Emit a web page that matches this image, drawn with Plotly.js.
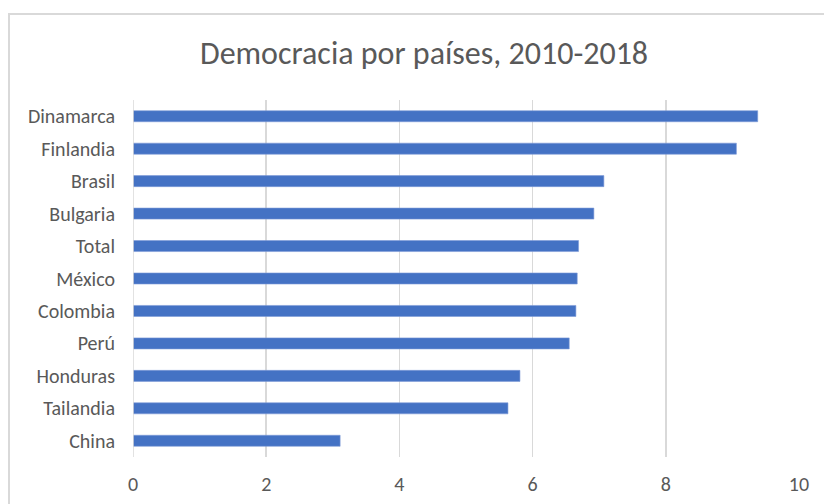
<!DOCTYPE html>
<html>
<head>
<meta charset="utf-8">
<script src="https://cdn.plot.ly/plotly-3.0.1.min.js"></script>
<style>
  html, body { margin: 0; padding: 0; background: #ffffff; }
  #wrap { position: relative; width: 824px; height: 504px; overflow: hidden; }
  #frame { position: absolute; left: 8px; top: 13px; width: 840px; height: 520px; border: 2px solid #d9d9d9; box-sizing: border-box; pointer-events: none; }
  #chart { position: absolute; left: 0; top: 0; width: 824px; height: 504px; }
</style>
</head>
<body>
<div id="wrap">
  <div id="chart"></div>
  <div id="frame"></div>
</div>
<script>
const countries = ["Dinamarca", "Finlandia", "Brasil", "Bulgaria", "Total", "México", "Colombia", "Perú", "Honduras", "Tailandia", "China"];
const democracyScores = [9.38, 9.06, 7.07, 6.92, 6.69, 6.67, 6.65, 6.55, 5.81, 5.63, 3.11];
const xTickValues = [0, 2, 4, 6, 8, 10];
const chartTitle = "Democracia por países, 2010-2018";

const fontFamily = "Carlito, Calibri, 'Liberation Sans', Arial, sans-serif";

const trace = {
  type: "bar",
  orientation: "h",
  x: democracyScores,
  y: countries,
  marker: { color: "#4472C4", line: { color: "#7d9bd6", width: 0.6 } },
  hoverinfo: "x+y"
};

const layout = {
  width: 824,
  height: 504,
  paper_bgcolor: "rgba(0,0,0,0)",
  plot_bgcolor: "rgba(0,0,0,0)",
  margin: { l: 133, r: 25, t: 100, b: 47, pad: 0 },
  bargap: 0.66,
  showlegend: false,
  title: {
    text: chartTitle,
    font: { family: fontFamily, size: 32, color: "#595959" },
    x: 424 / 824,
    xref: "container",
    xanchor: "center",
    y: 1 - 53 / 504,
    yref: "container",
    yanchor: "middle"
  },
  xaxis: {
    range: [0, 10],
    tickvals: xTickValues,
    ticktext: xTickValues.map(String),
    showgrid: true,
    gridcolor: "#d9d9d9",
    gridwidth: 1.5,
    zeroline: false,
    showline: false,
    ticks: "",
    ticklabelstandoff: 13,
    tickfont: { family: fontFamily, size: 20, color: "#595959" },
    fixedrange: true
  },
  yaxis: {
    type: "category",
    autorange: "reversed",
    showgrid: false,
    zeroline: false,
    showline: false,
    ticks: "",
    ticklabelstandoff: 17,
    tickfont: { family: fontFamily, size: 20, color: "#595959" },
    fixedrange: true
  },
  shapes: [
    { type: "line", xref: "x", yref: "paper", x0: 0, x1: 0, y0: 0, y1: 1, line: { color: "#d9d9d9", width: 1.5 } }
  ]
};

Plotly.newPlot("chart", [trace], layout, { displayModeBar: false, staticPlot: true });
</script>
</body>
</html>
